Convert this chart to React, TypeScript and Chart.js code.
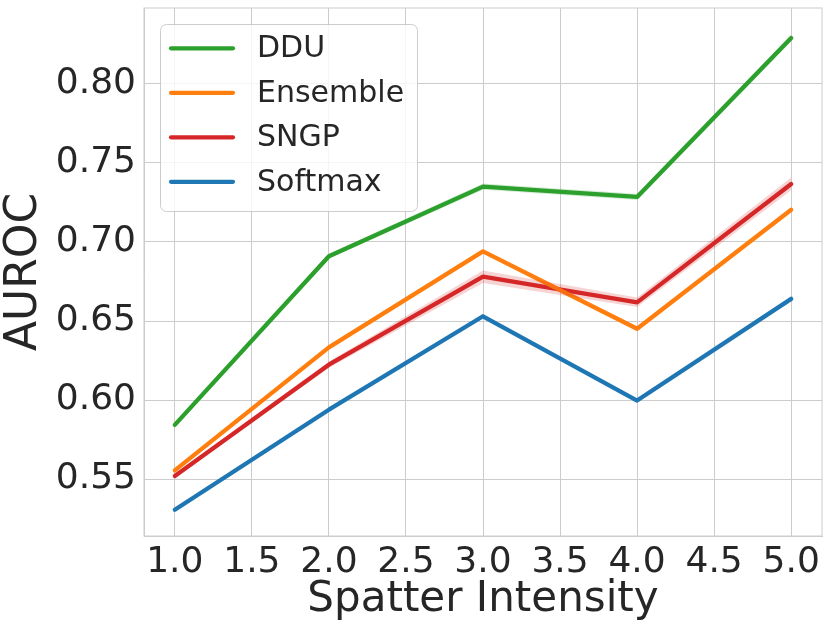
import React, { useEffect, useRef } from "react";
import { Chart, registerables } from "chart.js";

Chart.register(...registerables);

const intensities = [1.0, 2.0, 3.0, 4.0, 5.0];
const seriesNames = ["DDU", "Ensemble", "SNGP", "Softmax"];
const seriesColors = ["#2ca02c", "#ff7f0e", "#d62728", "#1f77b4"];
const dduValues = [0.5843, 0.691, 0.735, 0.7285, 0.829];
const ensembleValues = [0.5555, 0.6333, 0.694, 0.6451, 0.7204];
const sngpValues = [0.552, 0.6224, 0.678, 0.6618, 0.7367];
const softmaxValues = [0.5306, 0.5939, 0.653, 0.5997, 0.664];
const dduCi = [0.001, 0.0015, 0.002, 0.002, 0.002];
const ensembleCi = [0.001, 0.001, 0.001, 0.001, 0.001];
const sngpCi = [0.001, 0.002, 0.004, 0.003, 0.004];
const softmaxCi = [0.001, 0.001, 0.001, 0.001, 0.001];
const xTicks = [1.0, 1.5, 2.0, 2.5, 3.0, 3.5, 4.0, 4.5, 5.0];
const yTicks = [0.55, 0.6, 0.65, 0.7, 0.75, 0.8];

const FONT = "'DejaVu Sans', sans-serif";
const TEXT = "#262626";
const GRID = "#cccccc";

function alpha(hex: string, a: number) {
  const r = parseInt(hex.slice(1, 3), 16);
  const g = parseInt(hex.slice(3, 5), 16);
  const b = parseInt(hex.slice(5, 7), 16);
  return `rgba(${r},${g},${b},${a})`;
}

const framePlugin = {
  id: "frame",
  beforeDatasetsDraw(chart: any) {
    const { ctx, chartArea } = chart;
    ctx.save();
    ctx.strokeStyle = GRID;
    ctx.lineWidth = 1;
    ctx.strokeRect(chartArea.left, chartArea.top, chartArea.right - chartArea.left, chartArea.bottom - chartArea.top);
    ctx.restore();
  },
};

const legendPlugin = {
  id: "insideLegend",
  afterDraw(chart: any) {
    const ctx = chart.ctx;
    ctx.save();
    const bx = 160.5, by = 24.5, bw = 257, bh = 187, r = 6;
    ctx.beginPath();
    ctx.moveTo(bx + r, by);
    ctx.lineTo(bx + bw - r, by);
    ctx.arcTo(bx + bw, by, bx + bw, by + r, r);
    ctx.lineTo(bx + bw, by + bh - r);
    ctx.arcTo(bx + bw, by + bh, bx + bw - r, by + bh, r);
    ctx.lineTo(bx + r, by + bh);
    ctx.arcTo(bx, by + bh, bx, by + bh - r, r);
    ctx.lineTo(bx, by + r);
    ctx.arcTo(bx, by, bx + r, by, r);
    ctx.closePath();
    ctx.fillStyle = "rgba(255,255,255,0.8)";
    ctx.fill();
    ctx.strokeStyle = GRID;
    ctx.lineWidth = 1;
    ctx.stroke();
    seriesNames.forEach((name, i) => {
      const y = 48.3 + i * 44.5;
      ctx.beginPath();
      ctx.moveTo(171, y);
      ctx.lineTo(233, y);
      ctx.strokeStyle = seriesColors[i];
      ctx.lineWidth = 4.2;
      ctx.lineCap = "round";
      ctx.stroke();
      ctx.fillStyle = TEXT;
      ctx.font = `30px ${FONT}`;
      ctx.textAlign = "left";
      ctx.textBaseline = "middle";
      ctx.fillText(name, 257, y + 1);
    });
    ctx.restore();
  },
};

export default function App() {
  const ref = useRef<HTMLCanvasElement | null>(null);
  useEffect(() => {
    if (!ref.current) return;
    const values = [dduValues, ensembleValues, sngpValues, softmaxValues];
    const cis = [dduCi, ensembleCi, sngpCi, softmaxCi];
    const datasets: any[] = [];
    values.forEach((vals, i) => {
      datasets.push({
        label: seriesNames[i] + " upper",
        data: intensities.map((x, j) => ({ x, y: vals[j] + cis[i][j] })),
        borderWidth: 0,
        pointRadius: 0,
        fill: "+1",
        backgroundColor: alpha(seriesColors[i], 0.2),
        borderColor: "rgba(0,0,0,0)",
        tension: 0,
      });
      datasets.push({
        label: seriesNames[i] + " lower",
        data: intensities.map((x, j) => ({ x, y: vals[j] - cis[i][j] })),
        borderWidth: 0,
        pointRadius: 0,
        fill: false,
        borderColor: "rgba(0,0,0,0)",
        tension: 0,
      });
    });
    values.forEach((vals, i) => {
      datasets.push({
        label: seriesNames[i],
        data: intensities.map((x, j) => ({ x, y: vals[j] })),
        borderColor: seriesColors[i],
        backgroundColor: seriesColors[i],
        borderWidth: 4.3,
        pointRadius: 0,
        fill: false,
        tension: 0,
        borderCapStyle: "round",
        borderJoinStyle: "round",
      });
    });

    const chart = new Chart(ref.current, {
      type: "line",
      data: { datasets },
      plugins: [framePlugin, legendPlugin],
      options: {
        animation: false,
        responsive: true,
        maintainAspectRatio: false,
        layout: { padding: { left: 0, right: 9, top: 8, bottom: 0 } },
        plugins: {
          legend: { display: false },
          tooltip: { enabled: false },
        },
        scales: {
          x: {
            type: "linear",
            min: 0.8,
            max: 5.2,
            afterFit(scale: any) {
              scale.height = 99;
              scale.paddingLeft = 0;
              scale.paddingRight = 0;
            },
            afterBuildTicks(scale: any) {
              scale.ticks = xTicks.map((v) => ({ value: v }));
            },
            grid: { color: GRID, lineWidth: 1, drawTicks: false },
            border: { display: true, color: GRID, width: 1 },
            ticks: {
              color: TEXT,
              font: { family: FONT, size: 36 },
              padding: 5,
              maxRotation: 0,
              autoSkip: false,
              callback: (v: any) => Number(v).toFixed(1),
            },
            title: {
              display: true,
              text: "Spatter Intensity",
              color: TEXT,
              font: { family: FONT, size: 42, lineHeight: 1 },
              padding: { top: 0, bottom: 14 },
            },
          },
          y: {
            type: "linear",
            min: 0.514,
            max: 0.848,
            afterFit(scale: any) {
              scale.width = 144;
              scale.paddingTop = 0;
              scale.paddingBottom = 0;
            },
            afterBuildTicks(scale: any) {
              scale.ticks = yTicks.map((v) => ({ value: v }));
            },
            grid: { color: GRID, lineWidth: 1, drawTicks: false },
            border: { display: true, color: GRID, width: 1 },
            ticks: {
              color: TEXT,
              font: { family: FONT, size: 36 },
              padding: 8,
              autoSkip: false,
              callback: (v: any) => Number(v).toFixed(2),
            },
            title: {
              display: true,
              text: "AUROC",
              color: TEXT,
              font: { family: FONT, size: 44, lineHeight: 1 },
              padding: { top: 3, bottom: 0 },
            },
          },
        },
      },
    });
    return () => chart.destroy();
  }, []);

  return (
    <div style={{ position: "absolute", left: 0, top: 0, width: 831, height: 635, background: "#ffffff" }}>
      <canvas ref={ref} />
    </div>
  );
}
